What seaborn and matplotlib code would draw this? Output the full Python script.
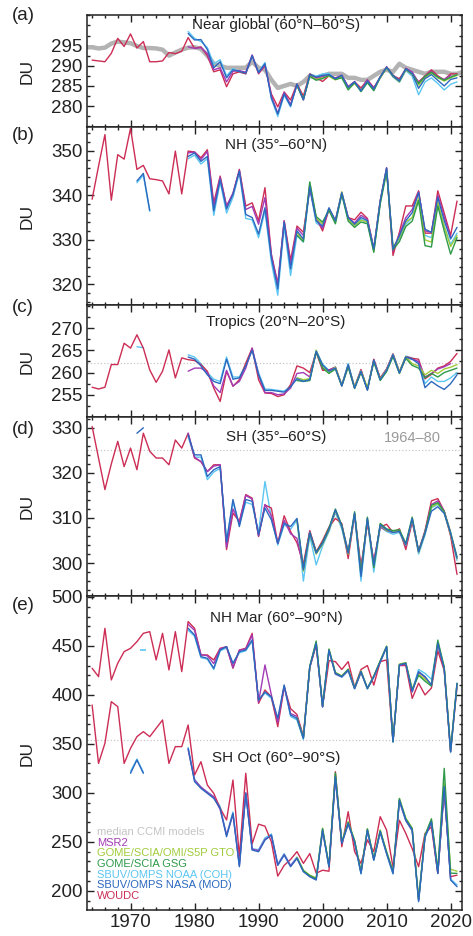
import numpy as np
import pandas as pd
import seaborn as sns
import matplotlib.pyplot as plt
from matplotlib.ticker import MultipleLocator

# ---- data (DU) ----
years_woudc = list(range(1964, 2022))
years_sat = list(range(1979, 2022))
years_msr2 = list(range(1979, 2021))
years_gome = list(range(1996, 2022))
years_ccmi = list(range(1963, 2023))

# (a) near global 60N-60S
ccmi_a = [294.6, 294.6, 294.3, 294.5, 295.5, 296.0, 295.8, 295.6, 294.9, 294.4,
          294.4, 294.3, 294.0, 292.5, 293.3, 294.0, 294.5, 294.6, 294.2, 292.5,
          290.5, 290.0, 289.5, 289.5, 289.5, 289.5, 291.0, 289.5, 289.0, 286.5,
          284.5, 285.0, 285.5, 285.0, 286.0, 287.5, 287.0, 287.5, 288.0, 288.0,
          288.0, 287.0, 287.0, 286.5, 286.5, 287.5, 288.5, 289.0, 288.5, 290.5,
          289.5, 289.0, 288.5, 288.0, 288.5, 288.5, 288.5, 288.0, 288.0, 288.5]
woudc_a = [291.4, 291.2, 291.0, 293.1, 296.8, 294.8, 297.9, 294.4, 296.0, 291.0,
           291.0, 291.2, 293.3, 293.0, 293.6, 297.0, 294.3, 294.7, 292.5, 288.5,
           289.0, 284.8, 288.0, 288.5, 288.0, 292.5, 288.0, 290.0, 283.0, 279.8,
           283.5, 281.5, 285.5, 282.5, 288.0, 287.0, 286.1, 287.5, 287.0, 287.5,
           284.8, 286.0, 284.5, 286.5, 284.6, 287.0, 289.5, 287.5, 286.8, 289.0,
           288.0, 286.0, 287.5, 289.0, 287.5, 286.5, 288.0, 288.0]
msr2_a = [294.7, 294.3, 294.5, 293.0, 289.0, 289.5, 286.0, 288.6, 288.8, 288.4,
          292.7, 288.2, 290.3, 282.5, 278.2, 283.4, 280.4, 285.2, 281.5, 287.6,
          286.9, 287.3, 287.7, 286.9, 287.7, 284.8, 286.1, 284.0, 286.5, 284.4,
          287.3, 289.8, 287.7, 286.5, 289.4, 288.5, 285.8, 287.3, 288.6, 287.2,
          286.6, 287.6]
nasa_a = [298.0, 296.4, 296.5, 294.0, 289.5, 291.0, 287.0, 289.0, 288.6, 288.2,
          292.5, 288.3, 290.5, 282.0, 278.0, 283.0, 280.0, 285.4, 281.6, 287.8,
          287.2, 287.6, 287.8, 286.8, 287.6, 284.6, 286.0, 283.8, 286.2, 284.2,
          287.2, 289.6, 287.4, 286.2, 289.2, 288.0, 284.4, 286.8, 287.8, 286.4,
          285.0, 286.6, 287.0]
noaa_a = [298.5, 296.8, 296.0, 294.5, 290.5, 291.5, 287.5, 289.3, 288.4, 288.0,
          292.3, 288.5, 290.8, 281.8, 277.4, 282.7, 279.8, 285.6, 281.8, 288.0,
          287.4, 288.0, 288.1, 286.6, 287.4, 284.4, 285.8, 283.6, 285.9, 284.0,
          287.0, 289.4, 287.2, 285.9, 288.8, 287.4, 282.8, 286.0, 287.0, 285.6,
          284.0, 285.4, 286.0]
gto_a = [285.0, 281.8, 287.5, 286.6, 287.0, 287.4, 286.5, 287.3, 284.3, 285.6,
         283.9, 286.0, 284.0, 287.0, 289.4, 287.3, 286.0, 289.0, 287.8, 285.2,
         287.0, 288.2, 287.0, 286.2, 287.0, 287.6]
gsg_a = [285.2, 281.6, 287.4, 286.4, 286.8, 287.6, 286.6, 287.0, 284.0, 285.8,
         283.6, 285.8, 283.8, 287.2, 289.6, 287.6, 286.2, 289.2, 288.0, 285.6,
         287.4, 288.4, 287.2, 286.4, 287.2, 287.8]

# (b) NH 35-60N
woudc_b = [339.1, 346.5, 353.6, 338.9, 349.1, 348.1, 355.0, 345.8, 346.7, 343.7,
           343.5, 343.2, 340.3, 349.9, 340.3, 349.9, 349.7, 348.4, 350.2, 338.3,
           344.3, 337.6, 340.3, 345.8, 337.6, 338.3, 334.3, 341.7, 326.8, 320.2,
           334.3, 325.4, 333.1, 331.7, 341.7, 335.0, 332.0, 336.9, 334.3, 340.6,
           335.0, 334.5, 336.2, 334.8, 328.0, 338.7, 346.0, 326.5, 331.7, 337.6,
           337.6, 341.0, 331.5, 331.5, 341.0, 336.0, 331.0, 338.7]
msr2_b = [349.5, 349.7, 348.0, 349.8, 337.5, 344.0, 337.5, 340.5, 345.6, 336.8,
          337.5, 333.5, 339.5, 326.5, 320.0, 334.2, 324.5, 332.6, 331.0, 341.8,
          334.6, 332.6, 337.0, 334.3, 340.4, 335.0, 333.8, 335.5, 334.6, 328.0,
          338.7, 346.2, 327.5, 331.3, 335.0, 336.8, 340.8, 332.0, 331.7, 340.0,
          335.2, 330.6]
nasa_b = [348.7, 349.5, 347.6, 348.7, 336.5, 343.5, 336.9, 340.2, 345.4, 335.7,
          335.0, 331.3, 337.2, 326.0, 319.0, 334.0, 323.5, 332.0, 330.2, 342.0,
          334.3, 333.1, 337.2, 334.3, 340.6, 335.0, 333.5, 335.0, 334.3, 328.0,
          338.7, 346.1, 328.0, 330.9, 334.3, 336.1, 340.6, 332.4, 331.7, 339.5,
          334.3, 330.2, 332.8]
noaa_b = [348.2, 349.0, 347.0, 348.2, 335.5, 343.0, 336.0, 339.5, 345.0, 334.8,
          334.5, 330.5, 336.5, 325.0, 317.6, 333.0, 322.0, 331.0, 329.5, 341.5,
          333.8, 332.8, 336.8, 334.0, 340.2, 334.6, 333.2, 334.6, 333.9, 327.6,
          338.3, 345.8, 328.3, 330.0, 333.5, 335.0, 339.0, 331.0, 330.5, 338.0,
          333.0, 329.0, 331.5]
gto_b = [331.5, 330.0, 342.8, 334.8, 333.6, 337.0, 334.0, 340.8, 334.6, 333.2,
         334.4, 334.0, 327.6, 338.4, 345.6, 328.4, 330.4, 334.0, 335.0, 339.4,
         330.0, 329.5, 338.5, 333.0, 328.5, 331.0]
gsg_b = [331.0, 329.6, 343.0, 335.2, 334.0, 336.6, 333.6, 340.2, 334.2, 332.8,
         334.0, 333.6, 327.2, 338.0, 345.2, 327.8, 329.6, 333.0, 334.2, 338.8,
         328.7, 328.4, 337.6, 332.0, 326.8, 330.5]
years_early_b = [1971, 1972, 1973]
nasa_early_b = [343.2, 344.9, 336.6]
noaa_early_b = [342.8, 344.5, 336.4]

# (c) tropics 20N-20S
woudc_c = [256.7, 256.3, 256.7, 261.8, 261.8, 266.6, 265.5, 268.5, 265.5, 260.6,
           257.8, 260.3, 265.1, 258.8, 263.3, 262.9, 262.7, 261.8, 260.3, 256.5,
           253.5, 260.3, 256.9, 258.4, 262.1, 265.5, 258.4, 255.4, 255.3, 254.6,
           255.0, 257.3, 261.5, 261.0, 260.0, 264.6, 260.5, 260.6, 261.2, 257.2,
           261.5, 256.8, 260.7, 256.2, 263.0, 258.8, 260.8, 264.2, 260.2, 263.6,
           263.2, 263.0, 258.6, 259.6, 261.0, 261.5, 262.5, 264.3]
msr2_c = [260.3, 261.0, 261.0, 260.0, 257.0, 255.5, 260.5, 257.0, 258.0, 261.0,
          265.5, 259.5, 255.5, 255.5, 255.0, 255.2, 256.5, 259.8, 260.0, 259.0,
          264.6, 261.0, 260.5, 261.2, 257.0, 261.6, 256.6, 260.5, 256.2, 262.8,
          258.6, 260.8, 264.0, 260.0, 263.4, 263.0, 262.5, 259.0, 259.8, 260.8,
          261.3, 262.0]
nasa_c = [263.5, 263.0, 261.5, 259.5, 258.0, 257.5, 263.0, 258.5, 258.8, 261.5,
          265.0, 259.5, 256.0, 256.0, 255.8, 255.6, 256.8, 258.6, 258.0, 258.4,
          264.8, 261.7, 260.3, 261.0, 257.0, 261.8, 256.5, 260.3, 256.0, 262.8,
          258.4, 260.5, 264.0, 259.9, 263.5, 263.0, 262.0, 256.6, 258.0, 257.0,
          256.2, 257.5, 259.5]
noaa_c = [264.0, 263.5, 262.0, 260.0, 258.5, 258.0, 263.5, 259.0, 259.0, 261.8,
          265.2, 260.0, 256.3, 256.2, 256.0, 255.8, 257.0, 258.8, 258.2, 258.6,
          265.0, 261.9, 260.5, 261.2, 257.2, 262.0, 256.6, 260.4, 256.2, 262.9,
          258.6, 260.7, 264.2, 260.2, 263.7, 263.3, 262.3, 257.5, 259.0, 258.0,
          258.0, 258.8, 260.0]
gto_c = [258.8, 258.4, 258.6, 265.0, 261.5, 260.0, 261.2, 257.2, 261.6, 256.8,
         260.4, 256.6, 262.6, 258.6, 260.6, 264.0, 260.2, 263.6, 262.0, 261.5,
         259.5, 260.5, 259.8, 260.8, 261.2, 261.8]
gsg_c = [258.2, 258.0, 258.2, 264.6, 261.0, 259.8, 260.8, 257.0, 261.2, 256.4,
         260.0, 256.2, 262.4, 258.2, 260.2, 263.6, 259.8, 263.2, 261.6, 261.0,
         258.8, 259.8, 259.0, 260.0, 260.5, 261.0]
years_early_c = [1971, 1972]
noaa_early_c = [265.8, 265.6]

# (d) SH 35-60S
woudc_d = [330.3, 323.3, 316.3, 322.0, 327.0, 321.4, 325.5, 320.7, 328.8, 324.8,
           323.3, 323.3, 321.8, 327.3, 325.5, 328.8, 323.3, 322.5, 320.3, 321.8,
           321.8, 303.0, 311.1, 309.2, 315.2, 314.4, 305.9, 312.9, 312.2, 304.4,
           310.5, 307.0, 304.5, 299.8, 307.2, 302.5, 305.0, 308.0, 309.9, 308.8,
           301.0, 310.8, 299.3, 308.8, 300.5, 308.0, 308.6, 306.8, 307.6, 303.0,
           309.2, 302.5, 307.2, 313.8, 314.3, 311.5, 306.0, 297.5]
msr2_d = [328.8, 323.5, 322.5, 320.3, 321.5, 321.8, 303.5, 312.0, 309.0, 315.0,
          314.2, 306.0, 313.0, 310.5, 304.4, 309.5, 306.5, 305.5, 299.0, 307.0,
          302.5, 304.5, 307.6, 311.6, 308.4, 302.6, 310.6, 298.5, 309.5, 300.0,
          308.0, 307.2, 306.8, 307.2, 303.8, 309.6, 302.8, 307.0, 313.0, 313.8,
          311.5, 306.8]
nasa_d = [328.4, 324.0, 324.0, 319.2, 320.7, 321.4, 304.7, 314.1, 308.1, 314.1,
          313.7, 306.3, 312.2, 309.6, 304.4, 308.8, 308.1, 309.9, 298.5, 306.6,
          302.2, 304.4, 307.4, 311.8, 308.1, 302.2, 311.1, 297.0, 309.9, 299.5,
          308.5, 307.4, 306.8, 307.0, 304.1, 309.9, 302.5, 306.6, 311.5, 312.5,
          311.0, 306.6, 301.1]
noaa_d = [328.0, 323.5, 323.5, 318.5, 320.2, 321.0, 305.0, 313.5, 308.5, 313.5,
          313.0, 306.8, 318.1, 310.0, 304.0, 308.5, 307.5, 309.5, 296.0, 306.0,
          299.6, 303.8, 307.0, 311.2, 307.6, 301.6, 310.6, 296.0, 309.4, 298.0,
          308.0, 307.0, 306.4, 306.8, 303.6, 309.4, 302.0, 306.2, 312.2, 313.0,
          311.4, 306.2, 300.6]
gto_d = [309.5, 298.2, 306.4, 302.0, 304.2, 307.2, 311.6, 308.0, 302.0, 311.0,
         297.5, 309.8, 299.2, 308.4, 307.2, 307.0, 307.0, 304.0, 309.8, 302.4,
         306.6, 312.4, 313.2, 311.2, 306.4, 301.0]
gsg_d = [309.7, 298.8, 306.8, 302.4, 304.6, 307.8, 312.0, 308.4, 302.4, 311.4,
         297.8, 310.2, 299.0, 308.8, 307.6, 307.2, 307.4, 304.4, 310.2, 302.6,
         306.8, 312.8, 313.4, 311.4, 306.8, 301.4]
years_early_d = [1971, 1972]
nasa_early_d = [328.8, 330.0]

# (e) polar: NH March 60-90N and SH October 60-90S
woudc_nh = [427.2, 418.7, 468.0, 415.3, 432.3, 444.2, 447.6, 454.4, 462.9, 464.6,
            435.7, 462.9, 425.5, 464.6, 423.8, 474.9, 468.0, 440.8, 440.8, 435.7,
            447.6, 449.3, 427.2, 445.9, 447.6, 462.9, 391.4, 405.0, 398.0, 367.6,
            408.0, 386.0, 380.0, 358.0, 428.0, 451.0, 388.0, 435.0, 434.0, 426.0,
            434.0, 408.0, 426.0, 430.0, 410.0, 434.0, 435.7, 352.3, 430.0, 430.0,
            396.5, 412.0, 400.0, 407.0, 445.0, 425.0, 342.1, 408.0]
msr2_nh = [472.0, 466.0, 441.0, 440.0, 432.0, 447.0, 449.0, 428.0, 445.5, 447.0,
           461.0, 392.5, 430.6, 400.0, 372.0, 409.0, 381.0, 378.0, 357.0, 428.5,
           452.0, 388.0, 445.0, 421.5, 418.5, 425.0, 406.5, 423.0, 406.5, 418.5,
           433.5, 449.0, 352.5, 430.0, 431.5, 403.0, 423.0, 418.0, 410.0, 451.5,
           426.5, 342.5]
nasa_nh = [468.0, 461.2, 439.1, 437.4, 427.2, 445.9, 449.3, 432.3, 444.2, 445.9,
           456.1, 394.8, 403.0, 398.0, 376.1, 410.2, 379.5, 376.1, 355.7, 428.9,
           452.7, 388.0, 445.9, 422.1, 418.7, 425.5, 406.8, 423.8, 406.8, 418.7,
           434.0, 449.3, 352.3, 430.6, 432.3, 403.4, 423.8, 418.7, 410.2, 452.7,
           427.2, 342.1, 411.9]
noaa_nh = [466.0, 460.0, 438.0, 436.5, 426.0, 445.0, 448.0, 431.5, 443.0, 445.0,
           455.0, 393.5, 402.0, 396.5, 372.0, 408.5, 378.0, 374.5, 354.5, 428.0,
           451.5, 387.5, 445.0, 421.0, 418.0, 424.5, 406.0, 423.0, 406.0, 418.0,
           433.0, 448.5, 351.5, 430.0, 431.5, 405.0, 426.0, 422.0, 416.0, 451.5,
           426.0, 341.0, 411.0]
gto_nh = [377.0, 356.5, 429.5, 454.0, 389.0, 447.0, 423.0, 419.5, 426.5, 407.5,
          424.5, 407.0, 419.5, 435.0, 450.0, 353.0, 431.5, 433.0, 406.0, 421.0,
          416.0, 410.5, 453.5, 429.0, 344.0, 412.0]
gsg_nh = [376.5, 356.0, 429.0, 455.0, 388.5, 446.5, 422.5, 419.0, 426.0, 407.0,
          424.0, 406.5, 419.0, 434.5, 449.5, 352.5, 431.0, 432.5, 405.0, 420.0,
          414.0, 409.0, 456.0, 428.0, 343.5, 411.5]
noaa_nh_1972 = 445.9

woudc_sh = [389.7, 330.1, 350.6, 393.1, 388.0, 330.1, 345.5, 357.4, 362.5, 357.4,
            365.9, 374.4, 330.1, 347.2, 347.2, 369.3, 318.2, 331.8, 308.0, 299.5,
            284.2, 272.3, 313.1, 235.0, 320.0, 248.0, 268.0, 266.0, 250.0, 215.0,
            226.0, 232.0, 240.0, 228.0, 238.0, 218.0, 221.0, 220.0, 321.6, 245.0,
            280.8, 240.0, 228.0, 252.0, 240.0, 275.7, 262.0, 224.0, 272.0, 258.6,
            243.0, 224.6, 258.6, 265.4, 217.8, 303.0, 214.4, 216.0]
msr2_sh = [344.0, 313.0, 306.0, 300.5, 296.0, 283.0, 257.0, 278.0, 226.0, 300.0,
           242.5, 241.0, 252.5, 256.5, 226.5, 237.0, 225.5, 233.5, 220.0, 214.8,
           211.5, 261.0, 225.0, 315.0, 249.0, 268.0, 250.5, 218.5, 261.5, 231.8,
           260.0, 238.6, 218.5, 291.5, 271.8, 261.5, 190.5, 255.5, 270.0, 218.5,
           305.5, 212.0]
nasa_sh = [345.5, 311.5, 304.6, 299.5, 294.4, 284.2, 255.2, 279.1, 224.6, 299.5,
           241.6, 239.9, 251.8, 256.9, 226.0, 236.5, 224.6, 233.1, 219.5, 214.4,
           211.0, 262.1, 224.6, 316.5, 248.4, 268.9, 250.1, 217.8, 262.1, 231.4,
           260.4, 238.2, 217.8, 292.7, 272.3, 262.1, 188.9, 255.2, 270.6, 217.8,
           306.3, 211.0, 204.2]
noaa_sh = [346.0, 314.0, 305.5, 301.0, 296.0, 286.0, 257.0, 280.5, 226.0, 300.0,
           243.0, 242.0, 254.0, 258.0, 227.5, 238.0, 226.0, 234.5, 220.5, 215.0,
           212.0, 261.5, 224.0, 315.5, 248.0, 268.0, 249.5, 217.0, 261.0, 231.0,
           259.5, 237.5, 217.0, 291.5, 271.5, 261.0, 190.0, 254.5, 269.5, 217.5,
           304.0, 212.0, 206.0]
gto_sh = [234.0, 221.0, 216.0, 213.0, 264.0, 226.0, 319.0, 250.0, 270.5, 251.5,
          219.5, 263.5, 233.0, 262.0, 240.0, 220.0, 294.5, 274.0, 264.0, 192.0,
          257.0, 272.5, 222.0, 310.0, 222.0, 220.0]
gsg_sh = [233.5, 220.5, 215.5, 212.5, 263.5, 225.5, 320.5, 249.5, 270.0, 251.0,
          219.0, 263.0, 232.5, 261.5, 239.5, 219.5, 294.0, 273.5, 263.5, 191.0,
          256.5, 273.5, 220.5, 325.0, 218.0, 217.8]
years_early_sh = [1970, 1971, 1972]
nasa_early_sh = [320.0, 333.6, 320.0]
noaa_early_sh = [322.0, 334.5, 321.0]

# 1964-80 reference levels (dotted)
ref_c = 262.1
ref_d = 325.1
ref_e = 354.0

legend_names = ["median CCMI models", "MSR2", "GOME/SCIA/OMI/S5P GTO", "GOME/SCIA GSG",
                "SBUV/OMPS NOAA (COH)", "SBUV/OMPS NASA (MOD)", "WOUDC"]

# ---- styling ----
C_CCMI = "#b3b3b3"
C_MSR2 = "#a23bb5"
C_GTO = "#a0cc3a"
C_GSG = "#2f9a4a"
C_NOAA = "#5cc6f2"
C_NASA = "#2b68bf"
C_WOUDC = "#cc2d55"
legend_colors = ["#c4c4c4", C_MSR2, C_GTO, C_GSG, C_NOAA, C_NASA, C_WOUDC]

sns.set_style("ticks")
plt.rcParams["font.family"] = ["Liberation Sans", "DejaVu Sans"]

W, H = 473, 936
fig = plt.figure(figsize=(W / 100, H / 100), dpi=100)

# panel extents in pixels (top, bottom)
panel_px = [(15, 127), (127, 305), (305, 417), (417, 596), (596, 910)]
left_px, right_px = 87, 461.5


def make_ax(top, bottom):
    return fig.add_axes([left_px / W, 1 - bottom / H, (right_px - left_px) / W, (bottom - top) / H])


def draw(ax, years, values, color, lw=1.0, z=2):
    sns.lineplot(x=years, y=values, ax=ax, color=color, lw=lw, zorder=z,
                 legend=False, errorbar=None, sort=False)


def draw_sats(ax, msr2, nasa, noaa, gto, gsg, woudc):
    draw(ax, years_sat, noaa, C_NOAA, z=2)
    draw(ax, years_woudc, woudc, C_WOUDC, z=3)
    draw(ax, years_msr2, msr2, C_MSR2, z=4)
    draw(ax, years_gome, gto, C_GTO, z=5)
    draw(ax, years_gome, gsg, C_GSG, z=6)
    draw(ax, years_sat, nasa, C_NASA, z=7)


axes = [make_ax(t, b) for t, b in panel_px]
ax_a, ax_b, ax_c, ax_d, ax_e = axes

# (a)
draw(ax_a, years_ccmi, ccmi_a, C_CCMI, lw=3.2, z=1)
draw_sats(ax_a, msr2_a, nasa_a, noaa_a, gto_a, gsg_a, woudc_a)
# (b)
draw_sats(ax_b, msr2_b, nasa_b, noaa_b, gto_b, gsg_b, woudc_b)
draw(ax_b, years_early_b, noaa_early_b, C_NOAA)
draw(ax_b, years_early_b, nasa_early_b, C_NASA)
# (c)
ax_c.axhline(ref_c, ls=":", color="#c8c8c8", lw=0.9, zorder=0)
draw_sats(ax_c, msr2_c, nasa_c, noaa_c, gto_c, gsg_c, woudc_c)
draw(ax_c, years_early_c, noaa_early_c, C_NOAA)
# (d)
ax_d.axhline(ref_d, ls=":", color="#c8c8c8", lw=0.9, zorder=0)
draw_sats(ax_d, msr2_d, nasa_d, noaa_d, gto_d, gsg_d, woudc_d)
draw(ax_d, years_early_d, nasa_early_d, C_NASA)
ax_d.text(0.87, 0.885, "1964\u201380", transform=ax_d.transAxes, ha="center", va="center",
          fontsize=10.5, color="#9a9a9a")
# (e)
ax_e.axhline(ref_e, ls=":", color="#c8c8c8", lw=0.9, zorder=0)
draw_sats(ax_e, msr2_nh, nasa_nh, noaa_nh, gto_nh, gsg_nh, woudc_nh)
draw_sats(ax_e, msr2_sh, nasa_sh, noaa_sh, gto_sh, gsg_sh, woudc_sh)
draw(ax_e, years_early_sh, noaa_early_sh, C_NOAA)
draw(ax_e, years_early_sh, nasa_early_sh, C_NASA)
sns.scatterplot(x=[1972], y=[noaa_nh_1972], ax=ax_e, marker="_", s=25, color=C_NOAA,
                linewidth=1.2, legend=False)

# legend as coloured text
for i, (name, col) in enumerate(zip(legend_names, legend_colors)):
    fig.text(97 / W, 1 - (832 + i * 10.7) / H, name, color=col, fontsize=8,
             ha="left", va="center")

titles = [("Near global (60\u00b0N\u201360\u00b0S)", 0.91),
          ("NH (35\u00b0\u201360\u00b0N)", 0.899),
          ("Tropics (20\u00b0N\u201320\u00b0S)", 0.848),
          ("SH (35\u00b0\u201360\u00b0S)", 0.891),
          ("NH Mar (60\u00b0\u201390\u00b0N)", 0.93)]
for ax, (t, yy) in zip(axes, titles):
    ax.text(0.505, yy, t, transform=ax.transAxes, ha="center", va="center", fontsize=11,
            color="#222222")
ax_e.text(0.505, 0.484, "SH Oct (60\u00b0\u201390\u00b0S)", transform=ax_e.transAxes,
          ha="center", va="center", fontsize=11, color="#222222")

ylims = [(274.8, 302.6), (315.4, 355.3), (250.0, 275.2), (292.7, 332.4), (180.4, 501.0)]
yticks = [[280, 285, 290, 295], [320, 330, 340, 350], [255, 260, 265, 270],
          [300, 310, 320, 330], [200, 250, 300, 350, 400, 450, 500]]
yminor = [2.5, 2, 2.5, 2, 10]
letters = ["(a)", "(b)", "(c)", "(d)", "(e)"]
letter_y = [16, 136, 307, 430, 606]

for i, ax in enumerate(axes):
    ax.set_xlim(1963.2, 2021.7)
    ax.set_ylim(*ylims[i])
    ax.set_yticks(yticks[i])
    ax.yaxis.set_minor_locator(MultipleLocator(yminor[i]))
    ax.xaxis.set_major_locator(MultipleLocator(10))
    ax.xaxis.set_minor_locator(MultipleLocator(2))
    ax.tick_params(which="both", direction="in", top=True, right=True, width=1.0,
                   labelsize=13.5, colors="#222222", pad=3)
    ax.tick_params(which="major", length=5)
    ax.tick_params(which="minor", length=2.5)
    ax.tick_params(axis="x", labelbottom=(i == 4))
    ax.set_xlabel("")
    ax.set_ylabel("DU", fontsize=12.5, color="#222222")
    ax.yaxis.set_label_coords(-0.14, 0.5)
    for s in ax.spines.values():
        s.set_linewidth(1.1)
        s.set_color("#222222")
    fig.text(12 / W, 1 - letter_y[i] / H, letters[i], fontsize=13.5, ha="left", va="center",
             color="#222222")

fig.savefig("out.png", dpi=100)
